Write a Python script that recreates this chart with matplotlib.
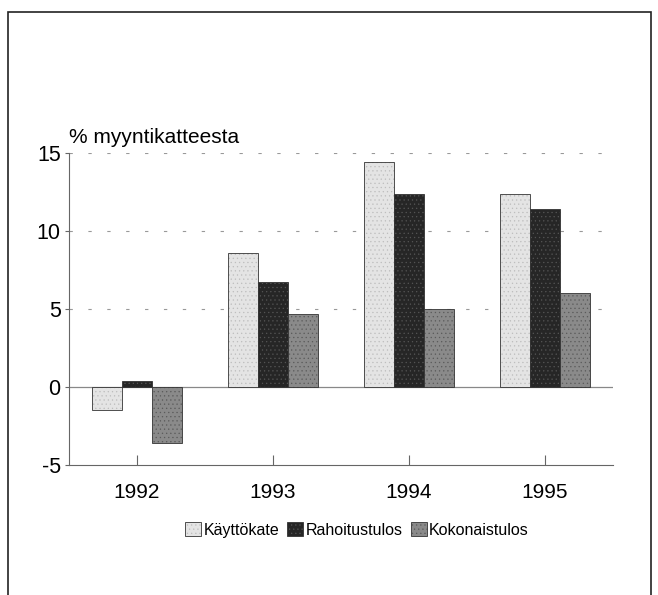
import matplotlib
matplotlib.use("Agg")
import matplotlib.pyplot as plt
import numpy as np
from matplotlib.patches import Rectangle

years = ["1992", "1993", "1994", "1995"]
series_names = ["Käyttökate", "Rahoitustulos", "Kokonaistulos"]
kayttokate = [-1.5, 8.6, 14.4, 12.4]
rahoitustulos = [0.4, 6.7, 12.4, 11.4]
kokonaistulos = [-3.6, 4.7, 5.0, 6.0]
yticks = [-5, 0, 5, 10, 15]
ylabel_text = "% myyntikatteesta"

colors = ["#e4e4e4", "#262626", "#8a8a8a"]
hatches = ["....", "....", "...."]

plt.rcParams['font.family'] = ['Liberation Sans', 'DejaVu Sans']
plt.rcParams['hatch.linewidth'] = 0.4

fig = plt.figure(figsize=(6.58, 5.95), dpi=100)
ax = fig.add_axes([69/658, 1-465/595, (613-69)/658, (465-153)/595])

x = np.arange(len(years))
w = 0.22
data = [kayttokate, rahoitustulos, kokonaistulos]
hatch_colors = ["#bdbdbd", "#555555", "#5a5a5a"]
handles = []
for i, (vals, c) in enumerate(zip(data, colors)):
    b = ax.bar(x + (i - 1) * w, vals, width=w, color=c, edgecolor="#333333",
               linewidth=0.6, label=series_names[i], zorder=3)
    for p in b:
        p.set_hatch(hatches[i])
        p._hatch_color = matplotlib.colors.to_rgba(hatch_colors[i])
    handles.append(b)

ax.set_xlim(-0.5, 3.5)
ax.set_ylim(-5, 15)
ax.set_yticks(yticks)
ax.set_yticklabels([str(v) for v in yticks], fontsize=15.5)
ax.set_xticks(x)
ax.set_xticklabels(years, fontsize=15)

for v in [5, 10, 15]:
    ax.axhline(v, color="#999999", linewidth=0.8, linestyle=(0, (3, 14)), zorder=1)
ax.axhline(0, color="#888888", linewidth=0.9, zorder=2)

for s in ["top", "right"]:
    ax.spines[s].set_visible(False)
for s in ["left", "bottom"]:
    ax.spines[s].set_color("#666666")
    ax.spines[s].set_linewidth(0.8)

ax.tick_params(axis="x", direction="in", length=7, width=0.8, color="#666666", pad=13)
ax.tick_params(axis="y", direction="out", length=3, width=0.8, color="#666666", pad=3)

fig.text(69/658, 1-143/595, ylabel_text, fontsize=15, ha="left", va="baseline")

leg = fig.legend(handles=handles, labels=series_names, loc="center",
                 bbox_to_anchor=(357/658, 1-530/595), ncol=3, frameon=False,
                 fontsize=11.5, handlelength=1.0, handleheight=1.0,
                 handletextpad=0.15, columnspacing=0.5, borderpad=0)

fig.patches.append(Rectangle((8/658, -0.02), (651-8)/658, 1.02 - 12/595,
                             transform=fig.transFigure, fill=False,
                             edgecolor="#222222", linewidth=1.2))

fig.savefig("out.png", dpi=100)
